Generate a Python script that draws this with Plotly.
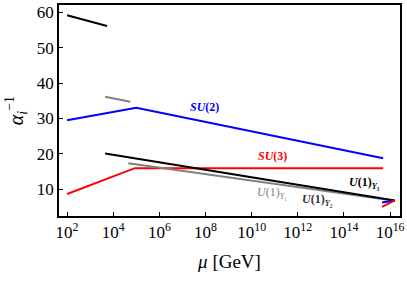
import plotly.graph_objects as go

# log10(mu / GeV) and alpha_i^-1 values
top_black_logmu = [2.0, 3.73]
top_black_val = [59.1, 56.1]

top_gray_logmu = [3.65, 4.74]
top_gray_val = [36.1, 34.7]

su2_logmu = [2.0, 5.0, 15.7]
su2_val = [29.5, 33.0, 18.8]

su3_logmu = [2.0, 4.94, 15.7]
su3_val = [8.7, 16.0, 16.0]

u1y3_logmu = [3.65, 16.2]
u1y3_val = [20.1, 6.9]

u1y1_logmu = [4.65, 16.2]
u1y1_val = [17.4, 6.8]

blue_end_logmu = [15.65, 16.2]
blue_end_val = [6.3, 6.9]

red_end_logmu = [15.65, 16.2]
red_end_val = [5.1, 6.9]

xtick_exp = [2, 4, 6, 8, 10, 12, 14, 16]
ytick_vals = [10, 20, 30, 40, 50, 60]

def mu(l):
    return [10 ** v for v in l]

fig = go.Figure()
def add(xl, yv, color, w=2):
    fig.add_trace(go.Scatter(x=mu(xl), y=yv, mode="lines",
                             line=dict(color=color, width=w), showlegend=False))

add(top_black_logmu, top_black_val, "black")
add(top_gray_logmu, top_gray_val, "#808080")
add(su2_logmu, su2_val, "#0000ff")
add(su3_logmu, su3_val, "#ff0000")
add(u1y1_logmu, u1y1_val, "#808080")
add(u1y3_logmu, u1y3_val, "black")
add(blue_end_logmu, blue_end_val, "#0000ff")
add(red_end_logmu, red_end_val, "#ff0000")

font = "Liberation Serif, serif"
ann = [
    (7.97, 33.3, "<b><i>SU</i>(2)</b>", "#0000ff"),
    (10.92, 19.3, "<b><i>SU</i>(3)</b>", "#ff0000"),
    (10.87, 9.0, "<i>U</i>(1)<sub><i>Y</i>₁</sub>", "#808080"),
    (12.87, 7.0, "<b><i>U</i>(1)<sub><i>Y</i>₂</sub></b>", "#333333"),
    (14.9, 11.8, "<b><i>U</i>(1)<sub><i>Y</i>₃</sub></b>", "black"),
]
for x, y, t, c in ann:
    fig.add_annotation(x=x, y=y, text=t, showarrow=False,
                       font=dict(family=font, size=12, color=c))

fig.update_layout(
    width=407, height=281,
    margin=dict(l=59, r=7, t=5, b=65, autoexpand=False),
    plot_bgcolor="white", paper_bgcolor="white",
    font=dict(family=font, size=17, color="black"),
)
fig.update_xaxes(
    type="log", range=[1.65, 16.43], automargin=False,
    tickvals=[10 ** e for e in xtick_exp],
    ticktext=[f"10<sup>{e}</sup>" for e in xtick_exp],
    ticks="inside", ticklen=4, tickcolor="black",
    showline=True, linecolor="black", linewidth=1.5, mirror=True,
    showgrid=False, zeroline=False,
    title=dict(text="<i>μ</i> [GeV]", font=dict(size=19), standoff=14),
)
fig.update_yaxes(
    range=[2.5, 62], tickvals=ytick_vals, automargin=False,
    ticks="inside", ticklen=4, tickcolor="black",
    showline=True, linecolor="black", linewidth=1.5, mirror=True,
    showgrid=False, zeroline=False,
    title=dict(text="<i>α</i><sub><i>i</i></sub><sup>−1</sup>", font=dict(size=20), standoff=8),
)

fig.write_html("out.html", config={"displayModeBar": False},
               post_script="document.body.style.margin='0';document.body.style.overflow='hidden';")
